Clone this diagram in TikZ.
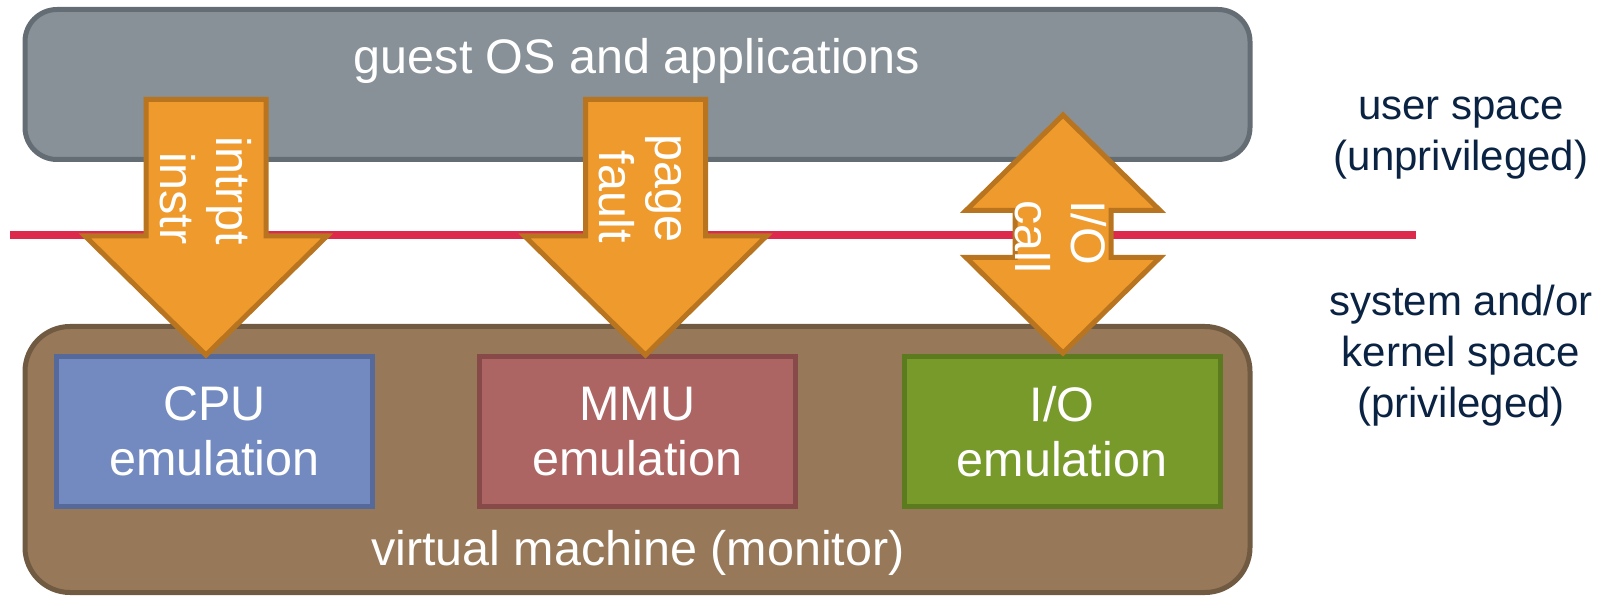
\documentclass[tikz,border=0pt]{standalone}
\usepackage{fontspec}
\setmainfont{Liberation Sans}
\definecolor{guestfill}{HTML}{879197}
\definecolor{guestline}{HTML}{656D74}
\definecolor{vmfill}{HTML}{977858}
\definecolor{vmline}{HTML}{715A42}
\definecolor{cpufill}{HTML}{738AC1}
\definecolor{cpuline}{HTML}{55699A}
\definecolor{mmufill}{HTML}{AC6562}
\definecolor{mmuline}{HTML}{884A49}
\definecolor{iofill}{HTML}{789A2A}
\definecolor{ioline}{HTML}{5B7B1E}
\definecolor{arrowfill}{HTML}{EE9A2D}
\definecolor{arrowline}{HTML}{B9741F}
\definecolor{boundaryred}{HTML}{DD2A4C}
\definecolor{sidenavy}{HTML}{0B2343}
\newcommand\lblfont{\fontsize{24.25pt}{27.5pt}\selectfont}
\newcommand\arwfont{\fontsize{24.25pt}{28pt}\selectfont}
\newcommand\sidefnt{\fontsize{21pt}{25.5pt}\selectfont}
\begin{document}
\begin{tikzpicture}[x=0.5pt, y=-0.5pt,
  layerbox/.style={draw, line width=2.5pt, inner sep=0pt, minimum width=612.5pt},
  emubox/.style={draw, line width=2.5pt, inner sep=0pt, minimum width=158pt,
    minimum height=75pt, text=white, font=\lblfont, align=center},
  blockarrow/.style={fill=arrowfill, draw=arrowline, line width=2.5pt, line join=miter},
  arrowlabel/.style={text=white, font=\arwfont, rotate=-90, inner sep=0pt},
  layertext/.style={text=white, font=\lblfont, inner sep=0pt, anchor=base},
  sidetext/.style={text=sidenavy, font=\sidefnt, align=center, inner sep=0pt},
  boundary/.style={draw=boundaryred, line width=4pt}]
\useasboundingbox (0,0) rectangle (1611,598);

% the two layers
\node[layerbox, fill=guestfill, draw=guestline, rounded corners=16pt,
  minimum height=75pt] (guest) at (637.5,84.5) {};
\node[layerbox, fill=vmfill, draw=vmline, rounded corners=22.5pt,
  minimum height=133pt] (vm) at (637.5,459.5) {};

% emulation components inside the monitor
\node[emubox, fill=cpufill, draw=cpuline] (cpu) at (214.5,431.5) {CPU\\emulation};
\node[emubox, fill=mmufill, draw=mmuline] (mmu) at (637.5,431.5) {MMU\\emulation};
\node[emubox, fill=iofill, draw=ioline] (io) at (1062,431.5) {I/O\\emulation};

% privilege boundary
\coordinate (bl) at (10,235);
\coordinate (br) at (1416,235);
\draw[boundary] (bl) -- (br);

% traps and calls crossing the boundary
\draw[blockarrow] (146,99.5) -- (266,99.5) -- (266,236) -- (327,236) -- (206,355)
  -- (85,236) -- (146,236) -- cycle;
\draw[blockarrow] (585.5,99.5) -- (705.5,99.5) -- (705.5,236) -- (766.5,236)
  -- (645.5,355) -- (524.5,236) -- (585.5,236) -- cycle;
\draw[blockarrow] (1063,115) -- (1160,210.5) -- (1111,210.5) -- (1111,257.5)
  -- (1160,257.5) -- (1063,353) -- (966,257.5) -- (1015,257.5) -- (1015,210.5)
  -- (966,210.5) -- cycle;

\node[arrowlabel, align=right, anchor=south east] (intr) at (160,245) {intrpt\\instr};
\node[arrowlabel, align=right, anchor=south east] (fault) at (599,243) {page\\fault};
\node[arrowlabel, align=left, anchor=south west] (call) at (1015,200) {I/O\\call};

% layer captions
\node[layertext] (guesttext) at (637,74) {guest OS and applications};
\node[layertext] (vmtext) at (638,565) {virtual machine (monitor)};

% privilege levels
\node[sidetext] (user) at (1461,137.7) {user space\\(unprivileged)};
\node[sidetext] (kernel) at (1461,356) {system and/or\\kernel space\\(privileged)};
\end{tikzpicture}
\end{document}
